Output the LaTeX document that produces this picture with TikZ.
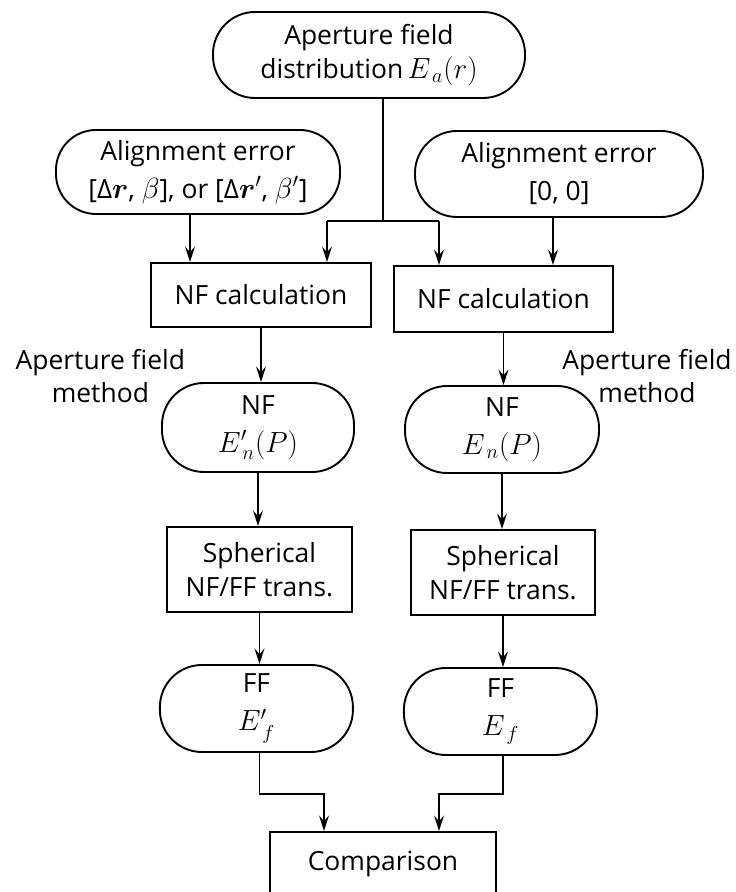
\documentclass[tikz,border=0pt]{standalone}
\usepackage{amsmath}
\usepackage{fontspec}
\setmainfont{Open Sans}
\usetikzlibrary{arrows.meta,calc}

\newcommand{\fieldsym}[1]{{\fontsize{20.5}{22.5}\selectfont$#1$}}

\begin{document}
\begin{tikzpicture}[
    every node/.style={font=\fontsize{18.8}{24}\selectfont, align=center},
    procbox/.style={draw, line width=1.35pt, inner sep=0pt},
    termbox/.style={draw, line width=1.35pt, rounded corners=1.05cm, inner sep=0pt},
    arr/.style={line width=1.35pt, -{Stealth[length=11pt, width=7pt, inset=4pt]}},
    link/.style={line width=1.35pt}
  ]
  \useasboundingbox (0, 0) rectangle (18.4, 22.3);

  % Source field and the two alignment cases
  \node[termbox, minimum width=7.8cm, minimum height=2.15cm] (field) at (9.225, 20.925)
    {Aperture field\\distribution\,\fieldsym{E_{\,a}(r)}};
  \node[termbox, rounded corners=1cm, minimum width=7.1cm, minimum height=2.1cm] (alignL) at (4.95, 18.0)
    {Alignment error\\[3pt]{}[Δ\fieldsym{\boldsymbol{r}}, \fieldsym{\beta}], or [Δ\fieldsym{\boldsymbol{r}'}, \fieldsym{\beta'}]};
  \node[termbox, minimum width=7.2cm, minimum height=2.15cm] (alignR) at (13.975, 17.95)
    {Alignment error\\[3pt]{}[0, 0]};

  % NF calculation
  \node[procbox, minimum width=5.5cm, minimum height=1.6cm] (nfcL) at (6.525, 14.925) {NF calculation};
  \node[procbox, minimum width=5.475cm, minimum height=1.65cm] (nfcR) at (12.5875, 14.825) {NF calculation};

  % Split of the field line
  \coordinate (split) at (9.575, 16.775);
  \coordinate (splitL) at (8.175, 16.775);
  \coordinate (splitR) at (10.975, 16.775);
  \draw[link] (field.south -| split) -- (split);
  \draw[link] (splitL) -- (splitR);
  \draw[arr] (splitL) -- (splitL |- nfcL.north);
  \draw[arr] (splitR) -- (splitR |- nfcR.north);
  \draw[arr] ([xshift=-0.2cm]alignL.south) -- ([xshift=-0.2cm]alignL.south |- nfcL.north);
  \draw[arr] ([xshift=-0.15cm]alignR.south) -- ([xshift=-0.15cm]alignR.south |- nfcR.north);

  % Method labels
  \node (methL) at (2.51, 12.9) {Aperture field\\method};
  \node (methR) at (16.175, 12.9) {Aperture field\\method};

  % Near field
  \node[termbox, minimum width=4.8cm, minimum height=2.225cm] (nfL) at (6.45, 11.6125)
    {NF\\[3pt]\fieldsym{E'_{\,n}(P)}};
  \node[termbox, minimum width=4.85cm, minimum height=2.175cm] (nfR) at (12.55, 11.5625)
    {NF\\[3pt]\fieldsym{E_{\,n}(P)}};
  \draw[arr] (nfcL.south) -- (nfcL.south |- nfL.north);
  \draw[arr] (nfcR.south) -- (nfcR.south |- nfR.north);

  % Spherical transformation
  \node[procbox, minimum width=4.625cm, minimum height=2.125cm] (sphL) at (6.4875, 8.0625)
    {Spherical\\NF/FF trans.};
  \node[procbox, minimum width=4.6cm, minimum height=2.125cm] (sphR) at (12.575, 7.9875)
    {Spherical\\NF/FF trans.};
  \draw[arr] (nfL.south) -- (nfL.south |- sphL.north);
  \draw[arr] (nfR.south) -- (nfR.south |- sphR.north);

  % Far field
  \node[termbox, minimum width=4.825cm, minimum height=2.175cm] (ffL) at (6.41, 4.5875)
    {FF\\[3pt]\fieldsym{E'_{\,f}}};
  \node[termbox, minimum width=4.825cm, minimum height=2.175cm] (ffR) at (12.51, 4.5125)
    {FF\\[3pt]\fieldsym{E_{\,f}}};
  \draw[arr] (sphL.south) -- (sphL.south |- ffL.north);
  \draw[arr] (sphR.south) -- (sphR.south |- ffR.north);

  % Comparison
  \node[procbox, minimum width=5.65cm, minimum height=1.6cm] (comp) at (9.575, 0.7) {Comparison};
  \coordinate (bendL) at (8.1, 2.45);
  \coordinate (bendR) at (10.975, 2.45);
  \draw[arr] (ffL.south -| sphL.south) |- (bendL) -- (bendL |- comp.north);
  \draw[arr] (ffR.south -| sphR.south) |- (bendR) -- (bendR |- comp.north);
\end{tikzpicture}
\end{document}
